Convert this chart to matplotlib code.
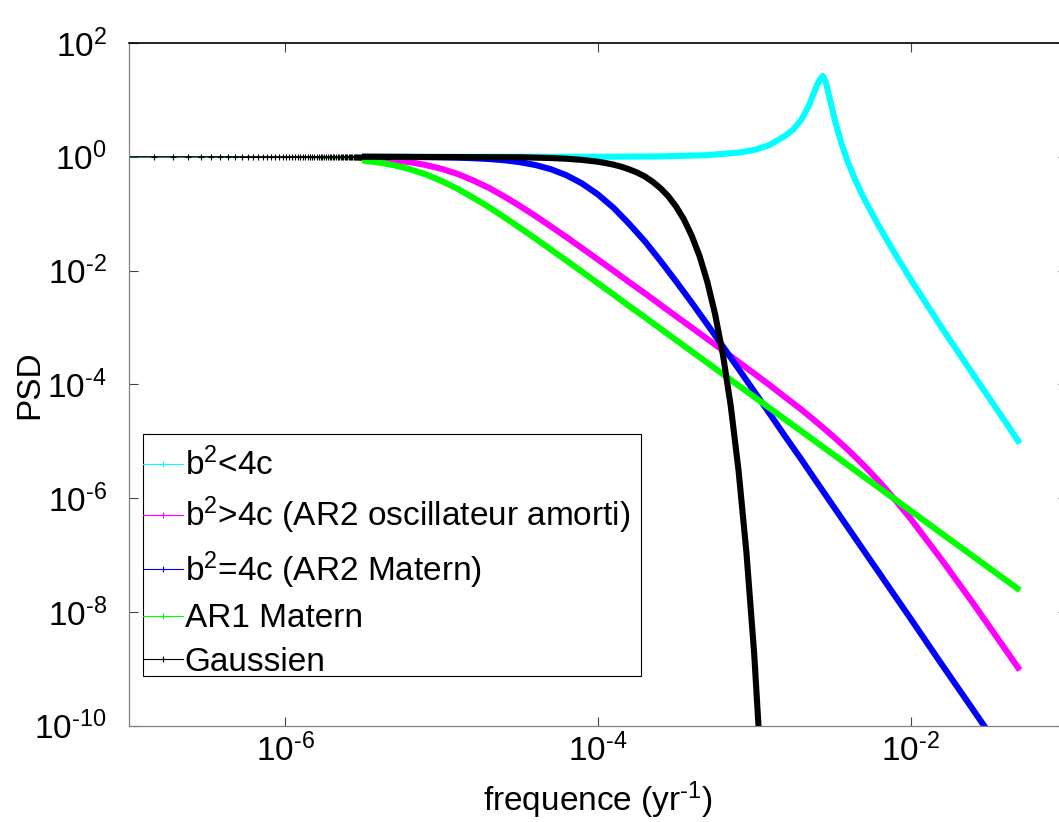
import numpy as np
import matplotlib
matplotlib.use('Agg')
import matplotlib.pyplot as plt
import matplotlib.transforms as mtransforms
from matplotlib.patches import Rectangle
from matplotlib.lines import Line2D
from matplotlib.ticker import FuncFormatter, NullLocator

plt.rcParams['font.family'] = ['Liberation Sans', 'DejaVu Sans']
plt.rcParams['mathtext.default'] = 'regular'

# frequencies (yr^-1), shared by three curves
freq = np.array([9.6e-8, 3.16e-7, 1.0e-6, 1.58e-6,
                 2.51e-6, 3.16e-6, 3.98e-6, 5.01e-6, 6.31e-6, 7.94e-6,
                 1.0e-5, 1.26e-5, 1.58e-5, 2.0e-5, 2.51e-5, 3.16e-5, 3.98e-5,
                 5.01e-5, 6.31e-5, 7.94e-5,
                 1.0e-4, 1.26e-4, 1.58e-4, 2.0e-4, 2.51e-4, 3.16e-4, 3.98e-4,
                 5.01e-4, 6.31e-4, 7.94e-4,
                 1.0e-3, 1.26e-3, 1.58e-3, 2.0e-3, 2.51e-3, 3.16e-3, 3.98e-3,
                 5.01e-3, 6.31e-3, 7.94e-3,
                 1.0e-2, 1.58e-2, 2.51e-2, 3.98e-2, 5.0e-2])

# b^2>4c (AR2 oscillateur amorti) - magenta
psd_over = np.array([1.0, 0.999, 0.994, 0.984,
                     0.962, 0.941, 0.909, 0.864, 0.800, 0.716,
                     0.614, 0.501, 0.388, 0.286, 0.2015, 0.1373, 0.0913,
                     0.0596, 0.0385, 0.0246,
                     0.01567, 9.94e-3, 6.29e-3, 3.98e-3, 2.51e-3, 1.58e-3,
                     9.99e-4, 6.29e-4, 3.95e-4, 2.48e-4,
                     1.55e-4, 9.64e-5, 5.94e-5, 3.62e-5, 2.16e-5, 1.26e-5,
                     7.08e-6, 3.81e-6, 1.95e-6, 9.46e-7,
                     4.37e-7, 8.30e-8, 1.43e-8, 2.34e-9, 9.50e-10])

# b^2=4c (AR2 Matern) - blue
psd_crit = np.array([1.0, 1.0, 1.0, 0.999,
                     0.999, 0.998, 0.996, 0.994, 0.991, 0.986,
                     0.977, 0.965, 0.945, 0.915, 0.870, 0.805, 0.717,
                     0.604, 0.472, 0.3376,
                     0.2177, 0.1266, 0.0667, 0.0325, 0.01484, 6.47e-3,
                     2.74e-3, 1.13e-3, 4.62e-4, 1.87e-4,
                     7.52e-5, 3.01e-5, 1.21e-5, 4.81e-6, 1.92e-6, 7.64e-7,
                     3.04e-7, 1.21e-7, 4.83e-8, 1.92e-8,
                     7.66e-9, 1.21e-9, 1.92e-10, 3.05e-11, 1.22e-11])

# AR1 Matern - green
psd_ar1 = np.array([1.0, 0.998, 0.984, 0.960,
                    0.905, 0.858, 0.792, 0.706, 0.602, 0.488,
                    0.376, 0.275, 0.1935, 0.1315, 0.0872, 0.0568, 0.0366,
                    0.0234, 0.0149, 9.46e-3,
                    5.99e-3, 3.79e-3, 2.39e-3, 1.51e-3, 9.54e-4, 6.02e-4,
                    3.80e-4, 2.40e-4, 1.51e-4, 9.55e-5,
                    6.03e-5, 3.80e-5, 2.40e-5, 1.51e-5, 9.55e-6, 6.03e-6,
                    3.80e-6, 2.40e-6, 1.51e-6, 9.55e-7,
                    6.03e-7, 2.40e-7, 9.55e-8, 3.80e-8, 2.41e-8])

# b^2<4c - cyan (resonance)
freq_under = np.array([9.6e-8, 1.0e-4, 2.51e-4, 5.01e-4, 7.94e-4, 1.0e-3, 1.26e-3,
                       1.58e-3, 1.78e-3, 2.0e-3, 2.24e-3, 2.51e-3, 2.63e-3, 2.75e-3,
                       2.88e-3, 3.02e-3, 3.31e-3, 3.63e-3, 3.98e-3, 4.47e-3,
                       5.01e-3, 6.31e-3, 7.94e-3, 1.0e-2, 1.26e-2, 1.58e-2,
                       2.51e-2, 3.98e-2, 5.0e-2])
psd_under = np.array([1.0, 1.0, 1.016, 1.068, 1.185, 1.318, 1.62, 2.34, 3.02, 4.47,
                      7.94, 17.8, 22.9, 26.3, 20.0, 11.5, 3.98, 1.66, 0.794, 0.372,
                      0.19, 0.0589, 0.02, 7.08e-3, 2.63e-3, 1.0e-3, 1.51e-4,
                      2.34e-5, 9.2e-6])

# Gaussien - black
freq_gauss = np.array([9.6e-8, 3.16e-6, 3.16e-5, 5.01e-5, 6.31e-5, 7.94e-5, 1.0e-4,
                       1.12e-4, 1.26e-4, 1.41e-4, 1.58e-4, 1.78e-4, 2.0e-4, 2.24e-4,
                       2.51e-4, 2.82e-4, 3.16e-4, 3.55e-4, 3.98e-4, 4.47e-4,
                       5.01e-4, 5.62e-4, 6.31e-4, 7.08e-4, 7.94e-4, 8.91e-4,
                       1.0e-3, 1.12e-3])
psd_gauss = np.array([1.0, 1.0, 0.98, 0.951, 0.923, 0.881, 0.818, 0.776, 0.727,
                      0.669, 0.603, 0.529, 0.449, 0.364, 0.281, 0.202, 0.134,
                      0.0793, 0.0411, 0.018, 6.35e-3, 1.71e-3, 3.30e-4, 4.14e-5,
                      3.04e-6, 1.13e-7, 1.80e-9, 9.8e-12])

# the separate '+' sample marks visible on the flat part (units of 1e-7 yr^-1)
marker_freq = np.array([1.44, 1.92, 2.40, 2.88, 3.36, 3.84, 4.32, 4.80, 5.28, 5.76,
                        6.24, 6.72, 7.20, 7.68, 8.16, 8.64, 9.12, 9.60, 10.08, 10.56,
                        11.04, 11.52, 12.00, 12.48, 12.96, 13.44, 13.92, 14.40,
                        14.88, 15.36, 15.84, 16.32, 16.80, 17.28, 17.76, 18.24,
                        18.72, 19.20, 19.68, 20.16, 20.64, 21.12, 21.60, 22.08,
                        22.56, 23.04, 23.52, 24.00, 24.48, 24.96, 25.44, 25.92,
                        26.40, 26.88, 27.36, 27.84, 28.32, 28.80, 29.28, 29.76,
                        30.24, 30.72]) * 1e-7
marker_psd = np.ones(len(marker_freq))

labels = ['b$^2$<4c', 'b$^2$>4c (AR2 oscillateur amorti)',
          'b$^2$=4c (AR2 Matern)', 'AR1 Matern', 'Gaussien']
colors = ['#00ffff', '#ff00ff', '#0000ff', '#00ff00', '#000000']

band_start = 3.1e-6   # where the sample marks merge into a solid band
HY = '\u2010'         # short hyphen, as in the original exponents


def sci_label(v, pos):
    e = int(round(np.log10(v)))
    s = str(abs(e)) if e >= 0 else HY + str(abs(e))
    return '10$^{' + s + '}$'


fig = plt.figure(figsize=(10.59, 8.22), dpi=100)
ax = fig.add_axes([0.1218, 0.1171, 0.8856, 0.8306])
ax.set_xscale('log')
ax.set_yscale('log')
ax.set_xlim(1e-7, 1e-1)
ax.set_ylim(1e-10, 1e2)

trans = mtransforms.blended_transform_factory(ax.transData, ax.transAxes)

series = [(freq_under, psd_under), (freq, psd_over), (freq, psd_crit),
          (freq, psd_ar1), (freq_gauss, psd_gauss)]
for (f, p), c in zip(series, colors):
    ax.plot(f, p, color=c, lw=0.75, zorder=2)
    thick, = ax.plot(f, p, color=c, lw=4.4, solid_capstyle='butt',
                     solid_joinstyle='round', zorder=2)
    thick.set_clip_path(Rectangle((band_start, 0), 0.1 - band_start, 1,
                                  transform=trans))

ax.plot(marker_freq, marker_psd, ls='none', marker='+', color='k',
        markersize=4.5, markeredgewidth=0.8, zorder=3)

ax.set_xticks([1e-6, 1e-4, 1e-2])
ax.set_yticks([1e-10, 1e-8, 1e-6, 1e-4, 1e-2, 1e0, 1e2])
ax.xaxis.set_major_formatter(FuncFormatter(sci_label))
ax.yaxis.set_major_formatter(FuncFormatter(sci_label))
ax.xaxis.set_minor_locator(NullLocator())
ax.yaxis.set_minor_locator(NullLocator())
ax.tick_params(which='major', direction='in', length=6.5, width=0.8,
               top=True, right=True, labelsize=24, color='#444444')
ax.tick_params(axis='x', pad=6)
ax.tick_params(axis='y', pad=16)

for side in ['left', 'bottom']:
    ax.spines[side].set_color('#808080')
    ax.spines[side].set_linewidth(0.9)
for side in ['top', 'right']:
    ax.spines[side].set_color('black')
    ax.spines[side].set_linewidth(1.2)

ax.set_xlabel('frequence (yr$^{' + HY + '1}$)', fontsize=24, labelpad=8)
ax.set_ylabel('PSD', fontsize=24)
ax.yaxis.set_label_coords(-0.0896, 0.5)

# legend box drawn separately so its padding matches the original
ax.add_patch(Rectangle((0.0149, 0.0728), 0.5311, 0.3545, transform=ax.transAxes,
                       facecolor='white', edgecolor='black', lw=0.8, zorder=4))
handles = [Line2D([], [], color=c, lw=0.8, marker='+', markersize=4,
                  markeredgewidth=0.8) for c in colors]
leg = ax.legend(handles, labels, loc='upper left', bbox_to_anchor=(0.0149, 0.4072),
                borderaxespad=0, fontsize=24, frameon=False, handlelength=1.2,
                handletextpad=0.05, borderpad=0, labelspacing=0.38, numpoints=1)
leg.set_zorder(5)

fig.savefig('out.png', dpi=100)
